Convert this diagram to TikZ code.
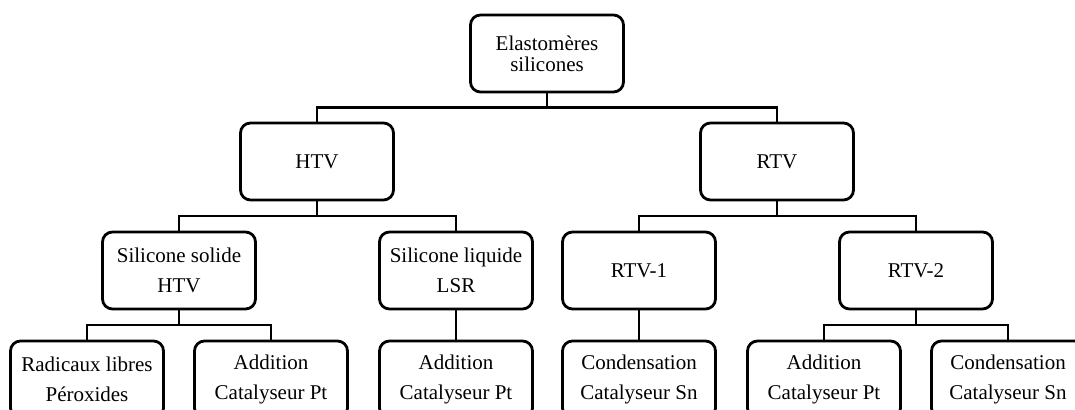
\documentclass[tikz,border=0pt]{standalone}
\usepackage{fontspec}
\setmainfont{Liberation Serif}
\usepackage{xcolor}
\definecolor{mainDark}{HTML}{000000}
\usepackage{tikz}
\usetikzlibrary{positioning,calc}
\tikzset{
  famBox/.style={
    rectangle,
    rounded corners=5pt,
    draw=mainDark,
    line width=1.4pt,
    minimum width=76.5pt,
    minimum height=38.5pt,
    inner sep=1pt,
    outer sep=0pt,
    align=center,
    font=\fontsize{10.5}{15}\selectfont
 },
  linkLine/.style={
    line width=1.4pt,
    color=mainDark
 }
}
\begin{document}
\begin{tikzpicture}[node distance=16pt]
            % picture frame, cut as in the source
            \useasboundingbox (-273.5pt,-178.25pt) rectangle (264pt,26.75pt);
            \clip (-273.5pt,-178.25pt) rectangle (264pt,26.75pt);
            % top box
            \node[famBox, font=\fontsize{10.5}{10.5}\selectfont] (elast) at (0,0) {Elastom\`eres\\silicones};
            % HTV and RTV
            \node[famBox, below=15.5pt of elast, xshift=-115pt] (htv) {HTV};
            \node[famBox, below=15.5pt of elast, xshift=115pt] (rtv) {RTV};

            \draw[linkLine] (elast.south) -- ++(0,-7.75pt) -| (htv.north);
            \draw[linkLine] (elast.south) -- ++(0,-7.75pt) -| (rtv.north);

            % HTV branch
            \node[famBox, below=of htv, xshift=-69pt] (solid) {Silicone solide\\HTV};
            \node[famBox, below=of htv, xshift=69.5pt] (lsr) {Silicone liquide\\LSR};

            \draw[linkLine] (htv.south) -- ++(0,-8pt) -| (solid.north);
            \draw[linkLine] (htv.south) -- ++(0,-8pt) -| (lsr.north);

            % RTV branch
            \node[famBox, below=of rtv, xshift=-69pt] (rtvOne) {RTV-1};
            \node[famBox, below=of rtv, xshift=69.5pt] (rtvTwo) {RTV-2};

            \draw[linkLine] (rtv.south) -- ++(0,-8pt) -| (rtvOne.north);
            \draw[linkLine] (rtv.south) -- ++(0,-8pt) -| (rtvTwo.north);

            % curing boxes
            \node[famBox, below=of solid, xshift=-46pt] (radical) {Radicaux libres\\P\'eroxides};
            \node[famBox, below=of solid, xshift=46pt] (addSolid) {Addition\\Catalyseur Pt};
            \node[famBox, below=of lsr] (addLsr) {Addition\\Catalyseur Pt};
            \node[famBox, below=of rtvOne] (condOne) {Condensation\\Catalyseur Sn};
            \node[famBox, below=of rtvTwo, xshift=-46pt] (addTwo) {Addition\\Catalyseur Pt};
            \node[famBox, below=of rtvTwo, xshift=46pt] (condTwo) {Condensation\\Catalyseur Sn};

            \draw[linkLine] (solid.south) -- ++(0,-8pt) -| (radical.north);
            \draw[linkLine] (solid.south) -- ++(0,-8pt) -| (addSolid.north);
            \draw[linkLine] (lsr) -- (addLsr);
            \draw[linkLine] (rtvOne) -- (condOne);
            \draw[linkLine] (rtvTwo.south) -- ++(0,-8pt) -| (addTwo.north);
            \draw[linkLine] (rtvTwo.south) -- ++(0,-8pt) -| (condTwo.north);
        \end{tikzpicture}
\end{document}
